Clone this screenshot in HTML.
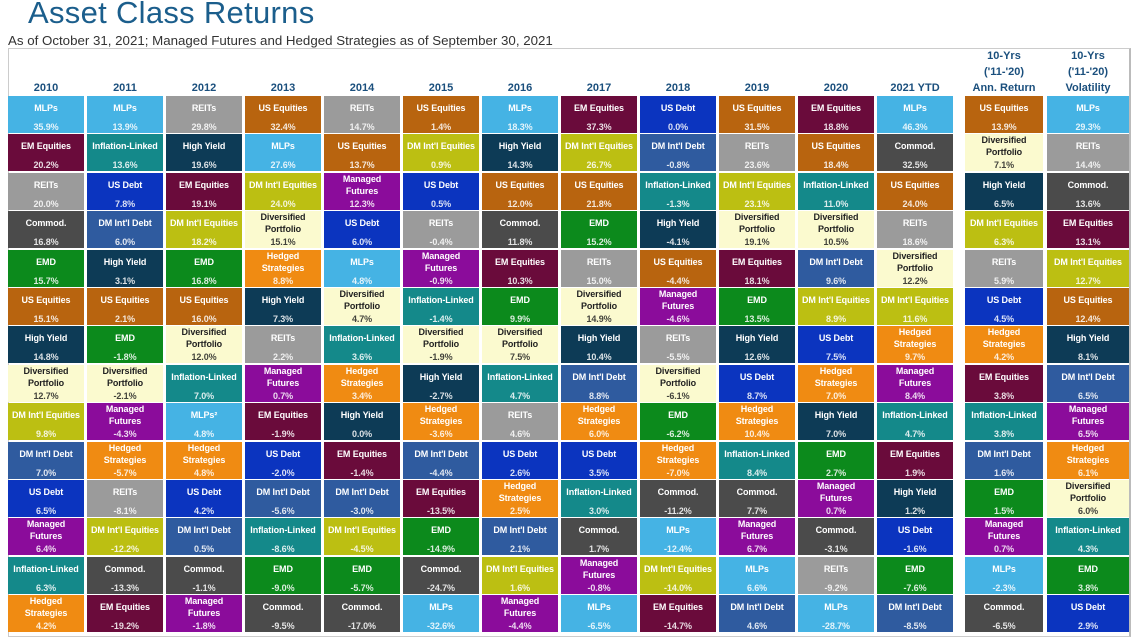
<!DOCTYPE html>
<html><head><meta charset="utf-8">
<style>
body{margin:0;width:1142px;height:640px;background:#fff;overflow:hidden;font-family:"Liberation Sans",sans-serif;position:relative}
#title{position:absolute;left:28px;top:-5px;font-size:31px;color:#1b5e8c;letter-spacing:0.3px}
#sub{position:absolute;left:8px;top:33px;font-size:13.3px;color:#333}
#frame{position:absolute;left:8px;top:48px;width:1123px;height:589px;border:1px solid #ccc;border-right:2px solid #bbb;box-sizing:border-box}
.hd{position:absolute;font-weight:bold;color:#1a4f7d;font-size:11px;text-align:center;line-height:16px}
.cell{position:absolute;width:76px;height:37px;color:#fff;font-weight:bold;font-size:9px;text-align:center;letter-spacing:-0.1px}
.cell .n{position:absolute;left:0;right:0;line-height:11px}
.cell .v{position:absolute;left:0;right:0;top:26px;line-height:11px;opacity:0.85}
</style></head><body>
<div id="title">Asset Class Returns</div>
<div id="sub">As of October 31, 2021; Managed Futures and Hedged Strategies as of September 30, 2021</div>
<div id="frame"></div>
<div id="grid"></div>
<script>
const headers=["2010","2011","2012","2013","2014","2015","2016","2017","2018","2019","2020","2021 YTD","10-Yrs\n('11-'20)\nAnn. Return","10-Yrs\n('11-'20)\nVolatility"];
const colA=[["MLPs",35.9],["EM Equities",20.2],["REITs",20.0],["Commod.",16.8],["EMD",15.7],["US Equities",15.1],["High Yield",14.8],["Diversified Portfolio",12.7],["DM Int'l Equities",9.8],["DM Int'l Debt",7.0],["US Debt",6.5],["Managed Futures",6.4],["Inflation-Linked",6.3],["Hedged Strategies",4.2]];
const col2011=[["MLPs",13.9],["Inflation-Linked",13.6],["US Debt",7.8],["DM Int'l Debt",6.0],["High Yield",3.1],["US Equities",2.1],["EMD",-1.8],["Diversified Portfolio",-2.1],["Managed Futures",-4.3],["Hedged Strategies",-5.7],["REITs",-8.1],["DM Int'l Equities",-12.2],["Commod.",-13.3],["EM Equities",-19.2]];
const col2012=[["REITs",29.8],["High Yield",19.6],["EM Equities",19.1],["DM Int'l Equities",18.2],["EMD",16.8],["US Equities",16.0],["Diversified Portfolio",12.0],["Inflation-Linked",7.0],["MLPs²",4.8],["Hedged Strategies",4.8],["US Debt",4.2],["DM Int'l Debt",0.5],["Commod.",-1.1],["Managed Futures",-1.8]];
const col2013=[["US Equities",32.4],["MLPs",27.6],["DM Int'l Equities",24.0],["Diversified Portfolio",15.1],["Hedged Strategies",8.8],["High Yield",7.3],["REITs",2.2],["Managed Futures",0.7],["EM Equities",-1.9],["US Debt",-2.0],["DM Int'l Debt",-5.6],["Inflation-Linked",-8.6],["EMD",-9.0],["Commod.",-9.5]];
const col2014=[["REITs",14.7],["US Equities",13.7],["Managed Futures",12.3],["US Debt",6.0],["MLPs",4.8],["Diversified Portfolio",4.7],["Inflation-Linked",3.6],["Hedged Strategies",3.4],["High Yield",0.0],["EM Equities",-1.4],["DM Int'l Debt",-3.0],["DM Int'l Equities",-4.5],["EMD",-5.7],["Commod.",-17.0]];
const col2015=[["US Equities",1.4],["DM Int'l Equities",0.9],["US Debt",0.5],["REITs",-0.4],["Managed Futures",-0.9],["Inflation-Linked",-1.4],["Diversified Portfolio",-1.9],["High Yield",-2.7],["Hedged Strategies",-3.6],["DM Int'l Debt",-4.4],["EM Equities",-13.5],["EMD",-14.9],["Commod.",-24.7],["MLPs",-32.6]];
const col2016=[["MLPs",18.3],["High Yield",14.3],["US Equities",12.0],["Commod.",11.8],["EM Equities",10.3],["EMD",9.9],["Diversified Portfolio",7.5],["Inflation-Linked",4.7],["REITs",4.6],["US Debt",2.6],["Hedged Strategies",2.5],["DM Int'l Debt",2.1],["DM Int'l Equities",1.6],["Managed Futures",-4.4]];
const col2017=[["EM Equities",37.3],["DM Int'l Equities",26.7],["US Equities",21.8],["EMD",15.2],["REITs",15.0],["Diversified Portfolio",14.9],["High Yield",10.4],["DM Int'l Debt",8.8],["Hedged Strategies",6.0],["US Debt",3.5],["Inflation-Linked",3.0],["Commod.",1.7],["Managed Futures",-0.8],["MLPs",-6.5]];
const col2018=[["US Debt",0.0],["DM Int'l Debt",-0.8],["Inflation-Linked",-1.3],["High Yield",-4.1],["US Equities",-4.4],["Managed Futures",-4.6],["REITs",-5.5],["Diversified Portfolio",-6.1],["EMD",-6.2],["Hedged Strategies",-7.0],["Commod.",-11.2],["MLPs",-12.4],["DM Int'l Equities",-14.0],["EM Equities",-14.7]];
const col2019=[["US Equities",31.5],["REITs",23.6],["DM Int'l Equities",23.1],["Diversified Portfolio",19.1],["EM Equities",18.1],["EMD",13.5],["High Yield",12.6],["US Debt",8.7],["Hedged Strategies",10.4],["Inflation-Linked",8.4],["Commod.",7.7],["Managed Futures",6.7],["MLPs",6.6],["DM Int'l Debt",4.6]];
const col2020=[["EM Equities",18.8],["US Equities",18.4],["Inflation-Linked",11.0],["Diversified Portfolio",10.5],["DM Int'l Debt",9.6],["DM Int'l Equities",8.9],["US Debt",7.5],["Hedged Strategies",7.0],["High Yield",7.0],["EMD",2.7],["Managed Futures",0.7],["Commod.",-3.1],["REITs",-9.2],["MLPs",-28.7]];
const col2021=[["MLPs",46.3],["Commod.",32.5],["US Equities",24.0],["REITs",18.6],["Diversified Portfolio",12.2],["DM Int'l Equities",11.6],["Hedged Strategies",9.7],["Managed Futures",8.4],["Inflation-Linked",4.7],["EM Equities",1.9],["High Yield",1.2],["US Debt",-1.6],["EMD",-7.6],["DM Int'l Debt",-8.5]];
const colRet=[["US Equities",13.9],["Diversified Portfolio",7.1],["High Yield",6.5],["DM Int'l Equities",6.3],["REITs",5.9],["US Debt",4.5],["Hedged Strategies",4.2],["EM Equities",3.8],["Inflation-Linked",3.8],["DM Int'l Debt",1.6],["EMD",1.5],["Managed Futures",0.7],["MLPs",-2.3],["Commod.",-6.5]];
const colVol=[["MLPs",29.3],["REITs",14.4],["Commod.",13.6],["EM Equities",13.1],["DM Int'l Equities",12.7],["US Equities",12.4],["High Yield",8.1],["DM Int'l Debt",6.5],["Managed Futures",6.5],["Hedged Strategies",6.1],["Diversified Portfolio",6.0],["Inflation-Linked",4.3],["EMD",3.8],["US Debt",2.9]];
const columns=[colA,col2011,col2012,col2013,col2014,col2015,col2016,col2017,col2018,col2019,col2020,col2021,colRet,colVol];
const colors={"MLPs":"#45b3e4","MLPs²":"#45b3e4","EM Equities":"#6a0b3b","REITs":"#9b9b9b","Commod.":"#4b4b4b","EMD":"#0c8a1c","US Equities":"#b8640f","High Yield":"#0d3b56","Diversified Portfolio":"#fbfacf","DM Int'l Equities":"#bcbf12","DM Int'l Debt":"#2f5b9f","US Debt":"#0b34bf","Managed Futures":"#8b0c9b","Inflation-Linked":"#14898a","Hedged Strategies":"#f08b12"};
const twoLine={"Diversified Portfolio":["Diversified","Portfolio"],"Managed Futures":["Managed","Futures"],"Hedged Strategies":["Hedged","Strategies"]};
function colX(i){return i<12?8+i*79:(i==12?965:1047);}
function rowY(r){return 96+r*38.4;}
const grid=document.getElementById('grid');
headers.forEach((h,i)=>{
  const d=document.createElement('div');
  
  
  d.className='hd';
  const lines=h.split('\n');
  d.innerHTML=lines.join('<br>');
  d.style.left=colX(i)+'px';d.style.width=(i==12?78:(i==13?82:76))+'px';
  d.style.top=(96-lines.length*16)+'px';
  grid.appendChild(d);
});
columns.forEach((col,i)=>{
  col.forEach((c,r)=>{
    const d=document.createElement('div');
    
    
    d.className='cell';
    d.style.left=colX(i)+'px';d.style.top=rowY(r)+'px';
    d.style.width=(i==12?78:(i==13?82:76))+'px';
    d.style.background=colors[c[0]];
    if(c[0]=="Diversified Portfolio")d.style.color='#222';
    const tl=twoLine[c[0]];
    let html='';
    if(tl){html='<div class="n" style="top:1px">'+tl[0]+'</div><div class="n" style="top:13px">'+tl[1]+'</div>';}
    else html='<div class="n" style="top:7px">'+c[0]+'</div>';
    html+='<div class="v">'+c[1].toFixed(1)+'%</div>';
    d.innerHTML=html;
    grid.appendChild(d);
  });
});
</script>
</body></html>
